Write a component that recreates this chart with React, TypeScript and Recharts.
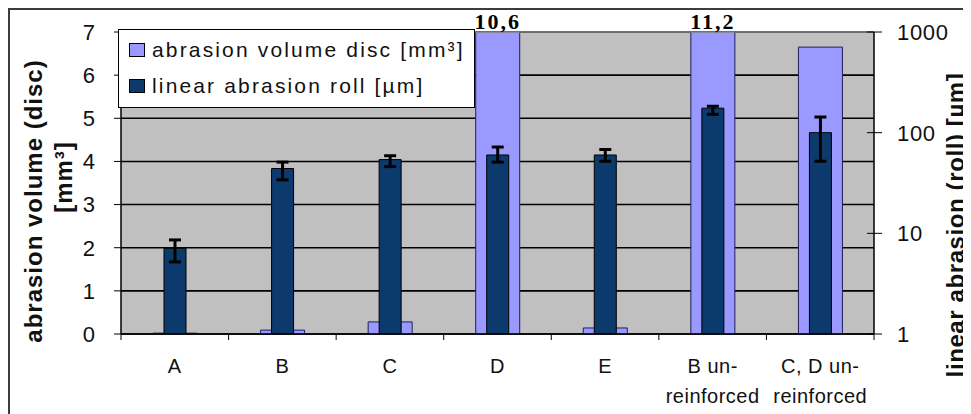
import React from 'react';
import {
  BarChart,
  Bar,
  XAxis,
  YAxis,
  CartesianGrid,
  Legend,
  ErrorBar,
  LabelList,
  ReferenceLine,
} from 'recharts';

// categories; a '\n' splits the label onto two lines
const categories = ['A', 'B', 'C', 'D', 'E', 'B un-\nreinforced', 'C, D un-\nreinforced'];
// abrasion volume of the disc, mm³ (left axis)
const discVolume = [0.02, 0.09, 0.28, 10.6, 0.14, 11.2, 6.65];
// linear abrasion of the roll, µm (right log axis)
const rollAbrasion = [7.1, 44, 54, 60, 60, 175, 100];
// [minus, plus] spread of the roll abrasion
const rollError = [
  [1.9, 1.5],
  [10, 7],
  [8, 5],
  [9, 12],
  [8, 8],
  [23, 8],
  [48, 43],
];
const leftTicks = [0, 1, 2, 3, 4, 5, 6, 7];
const rightTicks = [1, 10, 100, 1000];

const data = categories.map((name, i) => ({
  name,
  disc: discVolume[i],
  roll: rollAbrasion[i],
  rollErr: rollError[i],
}));

const CHART_W = 961;
const CHART_H = 404;
const MARGIN = { top: 22, right: 0, bottom: 0, left: 0 };
const LEFT_AXIS_W = 111;
const RIGHT_AXIS_W = 97;
const X_AXIS_H = 80;
const PLOT_RIGHT = CHART_W - RIGHT_AXIS_W;
const BAND = (CHART_W - LEFT_AXIS_W - RIGHT_AXIS_W) / categories.length;
const LEFT_MAX = leftTicks[leftTicks.length - 1];

const SANS = '"Liberation Sans", Arial, sans-serif';
const SERIF = '"Liberation Serif", "Times New Roman", serif';
const INK = '#111';

function CategoryTick(props: any) {
  const { x, y, payload, index } = props;
  const lines = String(payload.value).split('\n');
  const left = x - BAND / 2;
  const right = x + BAND / 2;
  return (
    <g>
      <line x1={left} x2={left} y1={y} y2={y + 6} stroke="#000" />
      {index === categories.length - 1 && (
        <line x1={right} x2={right} y1={y} y2={y + 6} stroke="#000" />
      )}
      {lines.map((line, i) => (
        <text
          key={i}
          x={x}
          y={y + 39 + i * 30}
          textAnchor="middle"
          fill={INK}
          style={{ fontFamily: SANS, fontSize: 20, letterSpacing: 0.5 }}
        >
          {line}
        </text>
      ))}
    </g>
  );
}

// log axis ticks cross the axis line
function LogTick(props: any) {
  const { y, payload } = props;
  return (
    <g>
      <line x1={PLOT_RIGHT - 7} x2={PLOT_RIGHT + 8} y1={y} y2={y} stroke="#000" />
      <text
        x={PLOT_RIGHT + 23}
        y={y}
        dy="0.36em"
        textAnchor="start"
        fill={INK}
        style={{ fontFamily: SANS, fontSize: 22, letterSpacing: 0.7 }}
      >
        {payload.value}
      </text>
    </g>
  );
}

function LeftTitle() {
  const style = { fontFamily: SANS, fontSize: 24, fontWeight: 700, letterSpacing: 1 };
  return (
    <g fill={INK}>
      <text x={32} y={191} transform="rotate(-90 32 191)" textAnchor="middle" style={style}>
        abrasion volume (disc)
      </text>
      <text x={62} y={167} transform="rotate(-90 62 167)" textAnchor="middle" style={style}>
        [mm³]
      </text>
    </g>
  );
}

function RightTitle() {
  const style = { fontFamily: SANS, fontSize: 24, fontWeight: 700, letterSpacing: 0.6 };
  return (
    <text x={954} y={215} transform="rotate(-90 954 215)" textAnchor="middle" fill={INK} style={style}>
      linear abrasion (roll) [µm]
    </text>
  );
}

// values above the left axis range get printed at the top of the plot
function OverflowLabel(props: any) {
  const { x, y, width, value } = props;
  if (value <= LEFT_MAX) return null;
  const top = Math.max(y, MARGIN.top);
  return (
    <text
      x={x + width / 2}
      y={top - 3}
      textAnchor="middle"
      fill="#000"
      style={{ fontFamily: SERIF, fontSize: 22, fontWeight: 700, letterSpacing: 2 }}
    >
      {String(value).replace('.', ',')}
    </text>
  );
}

function LegendBox({ payload }: any) {
  return (
    <div
      style={{
        boxSizing: 'border-box',
        width: 357,
        height: 79,
        background: '#fff',
        border: '1px solid #000',
        paddingTop: 2,
        fontFamily: SANS,
        fontSize: 21,
        letterSpacing: 2.15,
        color: INK,
      }}
    >
      {(payload || []).map((entry: any) => (
        <div
          key={entry.value}
          style={{ display: 'flex', alignItems: 'center', height: 36, lineHeight: '36px', whiteSpace: 'nowrap' }}
        >
          <span
            style={{
              boxSizing: 'border-box',
              display: 'inline-block',
              width: 16,
              height: 14,
              marginLeft: 10,
              marginRight: 7,
              background: entry.color,
              border: '1px solid #000',
            }}
          />
          {entry.value}
        </div>
      ))}
    </div>
  );
}

export default function App() {
  return (
    <div
      style={{
        width: 963,
        height: 406,
        boxSizing: 'border-box',
        borderTop: '2px solid #3c3c3c',
        borderLeft: '2px solid #3c3c3c',
        background: '#fff',
        overflow: 'hidden',
      }}
    >
      <BarChart width={CHART_W} height={CHART_H} data={data} margin={MARGIN}>
        <CartesianGrid
          xAxisId="a"
          yAxisId="left"
          vertical={false}
          stroke="#000"
          strokeWidth={1.6}
          strokeOpacity={1}
          fill="#c0c0c0"
          fillOpacity={1}
        />
        <XAxis
          xAxisId="a"
          dataKey="name"
          height={X_AXIS_H}
          interval={0}
          axisLine={{ stroke: '#000', strokeWidth: 1.5 }}
          tickLine={false}
          tickSize={0}
          tickMargin={0}
          tick={<CategoryTick />}
        />
        <XAxis xAxisId="b" dataKey="name" hide />
        <YAxis
          yAxisId="left"
          width={LEFT_AXIS_W}
          domain={[0, LEFT_MAX]}
          ticks={leftTicks}
          allowDataOverflow
          interval={0}
          axisLine={{ stroke: '#000', strokeWidth: 1.5 }}
          tickLine={{ stroke: '#000' }}
          tickSize={7}
          tickMargin={19}
          tick={{ fill: INK, fontSize: 22, fontFamily: SANS }}
          label={LeftTitle}
        />
        <YAxis
          yAxisId="right"
          orientation="right"
          width={RIGHT_AXIS_W}
          scale="log"
          domain={[1, 1000]}
          ticks={rightTicks}
          allowDataOverflow
          interval={0}
          axisLine={{ stroke: '#000', strokeWidth: 1.5 }}
          tickLine={false}
          tickSize={0}
          tickMargin={0}
          tick={<LogTick />}
          label={RightTitle}
        />
        <ReferenceLine xAxisId="a" yAxisId="left" y={LEFT_MAX} stroke="#808080" strokeWidth={1.6} />
        <Legend
          layout="horizontal"
          align="center"
          verticalAlign="middle"
          wrapperStyle={{ top: 19, left: 108, width: 357, height: 79 }}
          content={<LegendBox />}
        />
        <Bar
          name="abrasion volume disc [mm³]"
          xAxisId="a"
          yAxisId="left"
          dataKey="disc"
          barSize={44}
          fill="#9999ff"
          stroke="#1e1e5a"
          strokeWidth={1}
          isAnimationActive={false}
        >
          <LabelList dataKey="disc" content={OverflowLabel} />
        </Bar>
        <Bar
          name="linear abrasion roll [µm]"
          xAxisId="b"
          yAxisId="right"
          dataKey="roll"
          barSize={22}
          fill="#0d3a6c"
          stroke="#000"
          strokeWidth={1}
          isAnimationActive={false}
        >
          <ErrorBar dataKey="rollErr" direction="y" width={6} strokeWidth={3} stroke="#000" />
        </Bar>
      </BarChart>
    </div>
  );
}
